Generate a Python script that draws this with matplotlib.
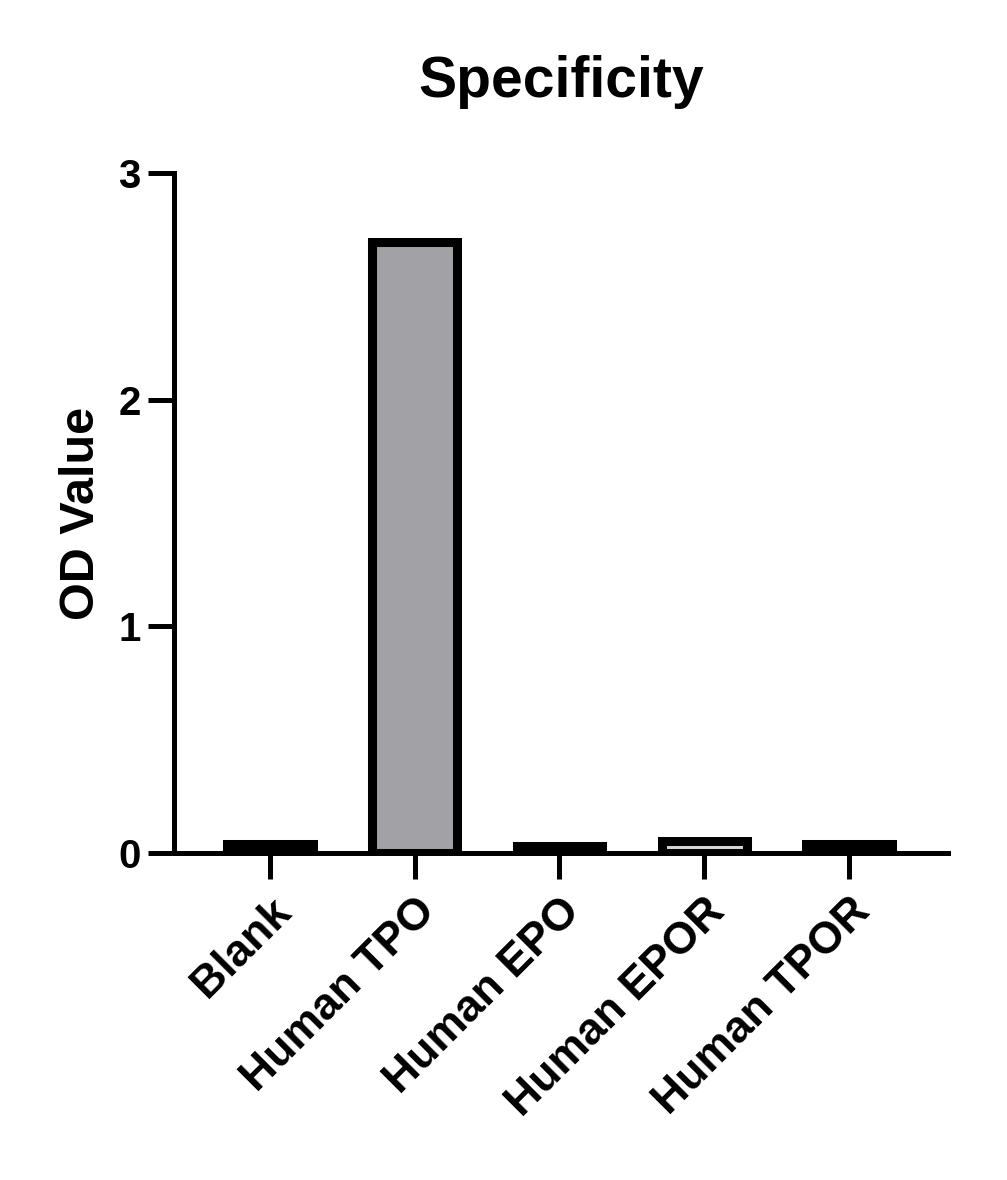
import matplotlib.pyplot as plt

plt.rcParams["font.family"] = ["Liberation Sans", "DejaVu Sans"]
plt.rcParams["font.weight"] = "bold"

# OD values
categories = ["Blank", "Human TPO", "Human EPO", "Human EPOR", "Human TPOR"]
od_values = [0.042, 2.695, 0.033, 0.052, 0.042]
bar_colors = ["#000000", "#a1a1a6", "#8c8c8c", "#d6d6d6", "#666666"]

fig = plt.figure(figsize=(10.07, 11.8), dpi=100)
ax = fig.add_axes([0.1728, 0.2771, 0.7686, 0.5763])

x = range(len(categories))
ax.bar(x, od_values, width=0.59, color=bar_colors, edgecolor="black", linewidth=6.5)

ax.set_xlim(-0.663, 4.684)
ax.set_ylim(0, 3)
ax.set_yticks([0, 1, 2, 3])
ax.set_xticks(list(x))
ax.set_xticklabels(categories, rotation=45, ha="right", rotation_mode="anchor")

for side in ["top", "right"]:
    ax.spines[side].set_visible(False)
for side in ["left", "bottom"]:
    ax.spines[side].set_linewidth(3.6)
    ax.spines[side].set_zorder(3)

ax.tick_params(axis="both", width=3.6, length=19, labelsize=29, pad=5)
ax.tick_params(axis="x", labelsize=32, pad=8)
for lbl in ax.get_xticklabels() + ax.get_yticklabels():
    lbl.set_fontweight("bold")

ax.set_ylabel("OD Value", fontsize=35, fontweight="bold", labelpad=10)
ax.set_title("Specificity", fontsize=41, fontweight="bold", pad=55)

plt.savefig("out.png", dpi=100)
